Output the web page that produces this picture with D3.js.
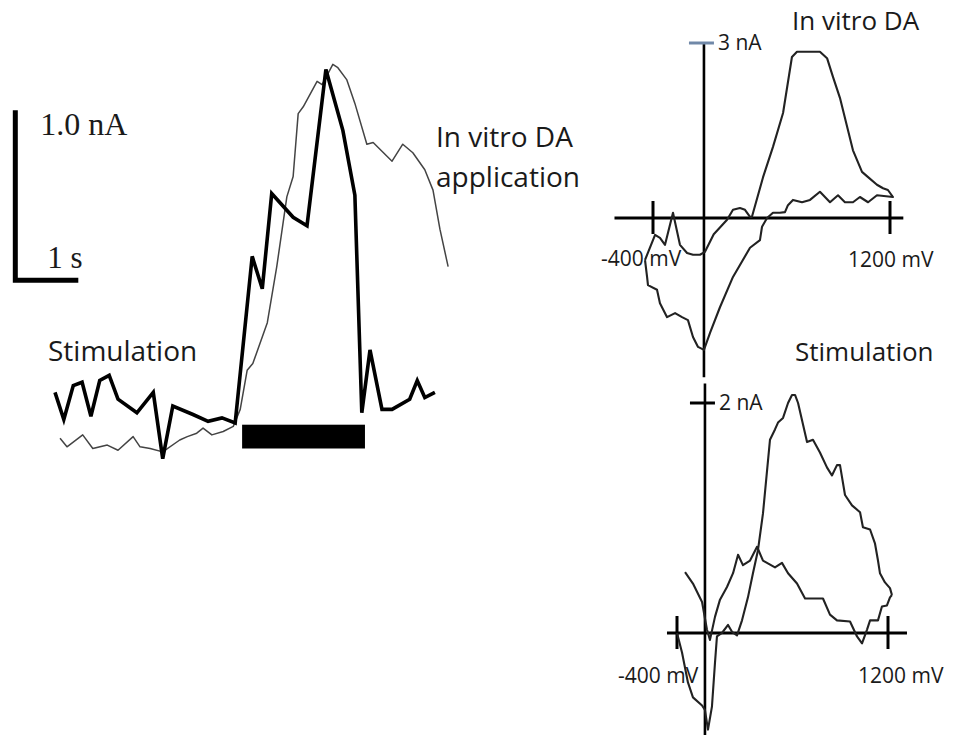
<!DOCTYPE html>
<html>
<head>
<meta charset="utf-8">
<script src="https://cdn.jsdelivr.net/npm/d3@7/dist/d3.min.js"></script>
<style>
  body { margin: 0; padding: 0; background: #fff; }
  svg text { font-family: "Open Sans", sans-serif; fill: #1a1a1a; }
</style>
</head>
<body>
<script>
// ---- left panel : current vs time  (t in s, i in nA)
var stimTrace = [
  [0.00, 0.28], [0.14, 0.12], [0.29, 0.32], [0.43, 0.34], [0.57, 0.14], [0.71, 0.35],
  [0.86, 0.38], [1.00, 0.24], [1.30, 0.16], [1.56, 0.28], [1.71, -0.11], [1.87, 0.20],
  [2.19, 0.15], [2.43, 0.11], [2.65, 0.13], [2.86, 0.10], [3.13, 1.08], [3.29, 0.89],
  [3.44, 1.45], [3.78, 1.31], [4.00, 1.26], [4.30, 2.18], [4.57, 1.82], [4.76, 1.44],
  [4.87, 0.16], [5.00, 0.53], [5.19, 0.18], [5.35, 0.18], [5.63, 0.24], [5.75, 0.35],
  [5.87, 0.25], [6.03, 0.28]
];
var daTrace = [
  [0.08, 0.01], [0.19, -0.04], [0.44, 0.03], [0.60, -0.05], [0.83, -0.03], [1.00, -0.06],
  [1.24, 0.02], [1.35, -0.04], [1.51, -0.05], [1.71, -0.07], [1.98, 0.00], [2.10, 0.02],
  [2.25, 0.04], [2.35, 0.07], [2.49, 0.03], [2.67, 0.05], [2.83, 0.08], [2.94, 0.18],
  [3.05, 0.41], [3.14, 0.45], [3.37, 0.69], [3.52, 1.02], [3.68, 1.43], [3.78, 1.55],
  [3.86, 1.92], [3.94, 1.96], [4.16, 2.11], [4.24, 2.09], [4.41, 2.21], [4.49, 2.19],
  [4.63, 2.12], [4.76, 1.98], [4.95, 1.74], [5.05, 1.75], [5.35, 1.64], [5.52, 1.74],
  [5.68, 1.69], [5.87, 1.59], [6.00, 1.47], [6.11, 1.24], [6.24, 1.02]
];
var stimBar = [2.97, 4.92];          // stimulation on / off (s)
var stimBarLevel = [0.09, -0.05];    // top / bottom of the bar (nA)
var scaleBarOrigin = [-0.63, 0.94];  // corner of the L (s, nA)
var scaleBarSize = [1, 1];           // 1 s , 1.0 nA

// ---- right panels : cyclic voltammograms (mV, nA)
var cvTicks = [-400, 1200];

var cvDaLoop = [
  [-454, -0.72], [-386, -0.29], [-353, -0.34], [-319, -0.46], [-265, 0.09], [-218, -0.46],
  [-170, -0.60], [-130, -0.63], [-83, -0.63], [-49, -0.58], [10, -0.28], [86, -0.07],
  [100, -0.03], [140, 0.14], [187, 0.17], [221, 0.14], [255, 0.02], [268, 0.02],
  [343, 0.70], [410, 1.22], [478, 1.80], [538, 2.76], [572, 2.85], [727, 2.85],
  [775, 2.74], [815, 2.42], [862, 2.06], [916, 1.51], [950, 1.16], [1011, 0.79],
  [1052, 0.70], [1112, 0.57], [1153, 0.51], [1186, 0.48], [1220, 0.36],
  [1112, 0.39], [1052, 0.27], [997, 0.36], [950, 0.27], [896, 0.27], [849, 0.39],
  [795, 0.27], [727, 0.45], [660, 0.31], [606, 0.27], [545, 0.31], [511, 0.22],
  [491, 0.10], [457, 0.09], [410, 0.09], [370, 0.00], [336, -0.15], [322, -0.38],
  [255, -0.51], [140, -1.01], [52, -1.53], [-15, -1.97], [-56, -2.26], [-96, -2.21],
  [-130, -2.04], [-164, -1.75], [-204, -1.70], [-251, -1.63], [-305, -1.70], [-353, -1.46],
  [-373, -1.23], [-434, -1.15], [-440, -1.01], [-454, -0.72]
];
var cvStimForward = [
  [-400, 0.00], [-362, -0.17], [-317, -0.43], [-279, -0.56], [-210, -0.63], [-188, -0.67],
  [-165, -0.84], [-135, -0.64], [-112, -0.26], [-97, -0.03], [-59, 0.00], [-13, 0.07],
  [17, 0.01], [55, -0.02], [93, 0.11], [138, 0.31], [176, 0.52], [214, 0.72],
  [252, 1.04], [305, 1.68], [343, 1.77], [366, 1.83], [404, 1.87], [442, 2.00],
  [472, 2.07], [495, 2.07], [518, 2.00], [586, 1.66], [631, 1.68], [684, 1.57],
  [737, 1.44], [775, 1.37], [813, 1.46], [836, 1.46], [874, 1.20], [927, 1.11],
  [988, 1.05], [1010, 0.92], [1064, 0.90], [1101, 0.78], [1124, 0.63], [1139, 0.52],
  [1177, 0.44], [1215, 0.39], [1230, 0.33]
];
var cvStimReturn = [
  [1230, 0.33], [1215, 0.31], [1192, 0.24], [1154, 0.23], [1124, 0.11], [1064, 0.11],
  [1041, 0.03], [1003, -0.09], [965, -0.03], [912, 0.10], [813, 0.11], [760, 0.16],
  [707, 0.30], [571, 0.30], [510, 0.43], [442, 0.52], [396, 0.61], [343, 0.57],
  [252, 0.63], [207, 0.75], [154, 0.63], [100, 0.59], [63, 0.68], [25, 0.52],
  [-21, 0.40], [-74, 0.29], [-112, 0.14], [-150, -0.06], [-173, 0.03], [-210, 0.27],
  [-279, 0.43], [-339, 0.53]
];

// axis extents of the two voltammograms, in data units
var topAxisX = [-660, 1290], topAxisY = [-2.73, 3], topYAxisAt = -56, topYTick = 3;
var botAxisX = [-476, 1344], botAxisY = [-0.89, 2.17], botYAxisAt = -188, botYTick = 2;


var svg = d3.select("body").append("svg")
  .attr("width", 955)
  .attr("height", 735);

var line = function (xs, ys) {
  return d3.line().x(function (d) { return xs(d[0]); }).y(function (d) { return ys(d[1]); });
};

// ================= left panel
var xT = d3.scaleLinear().domain([0, 1]).range([55, 118]);   // 63 px per second
var yI = d3.scaleLinear().domain([0, 1]).range([440, 270]);  // 170 px per nA

svg.append("path").datum(daTrace)
  .attr("d", line(xT, yI))
  .attr("fill", "none").attr("stroke", "#444").attr("stroke-width", 1.5)
  .attr("stroke-linejoin", "round");

svg.append("path").datum(stimTrace)
  .attr("d", line(xT, yI))
  .attr("fill", "none").attr("stroke", "#000").attr("stroke-width", 3.6)
  .attr("stroke-linejoin", "miter");

svg.append("rect")
  .attr("x", xT(stimBar[0]))
  .attr("y", yI(stimBarLevel[0]))
  .attr("width", xT(stimBar[1]) - xT(stimBar[0]))
  .attr("height", yI(stimBarLevel[1]) - yI(stimBarLevel[0]))
  .attr("fill", "#000");

// scale bar (L shape)
var sb = [
  [scaleBarOrigin[0], scaleBarOrigin[1] + scaleBarSize[1]],
  scaleBarOrigin,
  [scaleBarOrigin[0] + scaleBarSize[0], scaleBarOrigin[1]]
];
svg.append("path").datum(sb)
  .attr("d", line(xT, yI))
  .attr("fill", "none").attr("stroke", "#000").attr("stroke-width", 5)
  .attr("stroke-linejoin", "miter");

svg.append("text").text("1.0 nA")
  .attr("x", xT(scaleBarOrigin[0]) + 25).attr("y", yI(scaleBarOrigin[1] + scaleBarSize[1]) + 25)
  .style("font-family", "'Liberation Serif', serif").style("font-size", "32px");
svg.append("text").text("1 s")
  .attr("x", xT(scaleBarOrigin[0]) + 32).attr("y", yI(scaleBarOrigin[1]) - 12)
  .style("font-family", "'Liberation Serif', serif").style("font-size", "31px");

svg.append("text").text("Stimulation").attr("x", 48).attr("y", 361).style("font-size", "28px");
svg.append("text").text("In vitro DA").attr("x", 436).attr("y", 147).style("font-size", "28px");
svg.append("text").text("application").attr("x", 436).attr("y", 187).style("font-size", "28px");

// ================= right panels
function cvPanel(xs, ys, axX, axY, yAt, yTick, tickColor) {
  var g = svg.append("g");
  // horizontal (potential) axis
  g.append("line")
    .attr("x1", xs(axX[0])).attr("x2", xs(axX[1]))
    .attr("y1", ys(0)).attr("y2", ys(0))
    .attr("stroke", "#000").attr("stroke-width", 3);
  // vertical (current) axis
  g.append("line")
    .attr("x1", xs(yAt)).attr("x2", xs(yAt))
    .attr("y1", ys(axY[0])).attr("y2", ys(axY[1]))
    .attr("stroke", "#000").attr("stroke-width", 2.6);
  // -400 / 1200 mV ticks
  g.selectAll(".xt").data(cvTicks).enter().append("line")
    .attr("x1", function (d) { return xs(d); }).attr("x2", function (d) { return xs(d); })
    .attr("y1", ys(0) - 17).attr("y2", ys(0) + 16)
    .attr("stroke", "#000").attr("stroke-width", 3);
  // current tick
  g.append("line")
    .attr("x1", xs(yAt) - 15).attr("x2", xs(yAt) + 10)
    .attr("y1", ys(yTick)).attr("y2", ys(yTick))
    .attr("stroke", tickColor).attr("stroke-width", 3);
  g.append("text").text(yTick + " nA")
    .attr("x", xs(yAt) + 14).attr("y", ys(yTick) + 7)
    .style("font-size", "21px");
  return g;
}

// top : in vitro DA
var xTop = d3.scaleLinear().domain([-400, 1200]).range([653, 890]);
var yTop = d3.scaleLinear().domain([0, 3]).range([218, 43]);
cvPanel(xTop, yTop, topAxisX, topAxisY, topYAxisAt, topYTick, "#7088a8");

svg.append("path").datum(cvDaLoop)
  .attr("d", line(xTop, yTop))
  .attr("fill", "none").attr("stroke", "#222").attr("stroke-width", 2.1)
  .attr("stroke-linejoin", "round");

svg.append("text").text("-400 mV").attr("x", xTop(-400) - 52).attr("y", yTop(0) + 48).style("font-size", "21px");
svg.append("text").text("1200 mV").attr("x", xTop(1200) - 42).attr("y", yTop(0) + 49).style("font-size", "21px");
svg.append("text").text("In vitro DA").attr("x", 792).attr("y", 30).style("font-size", "26px");

// bottom : stimulation
var xBot = d3.scaleLinear().domain([-400, 1200]).range([677, 888]);
var yBot = d3.scaleLinear().domain([0, 2]).range([633, 403]);
cvPanel(xBot, yBot, botAxisX, botAxisY, botYAxisAt, botYTick, "#000");

[cvStimForward, cvStimReturn].forEach(function (s) {
  svg.append("path").datum(s)
    .attr("d", line(xBot, yBot))
    .attr("fill", "none").attr("stroke", "#222").attr("stroke-width", 2.1)
    .attr("stroke-linejoin", "round");
});

svg.append("text").text("-400 mV").attr("x", xBot(-400) - 59).attr("y", yBot(0) + 50).style("font-size", "21px");
svg.append("text").text("1200 mV").attr("x", xBot(1200) - 30).attr("y", yBot(0) + 50).style("font-size", "21px");
svg.append("text").text("Stimulation").attr("x", 795).attr("y", 361).style("font-size", "26px");
</script>
</body>
</html>
